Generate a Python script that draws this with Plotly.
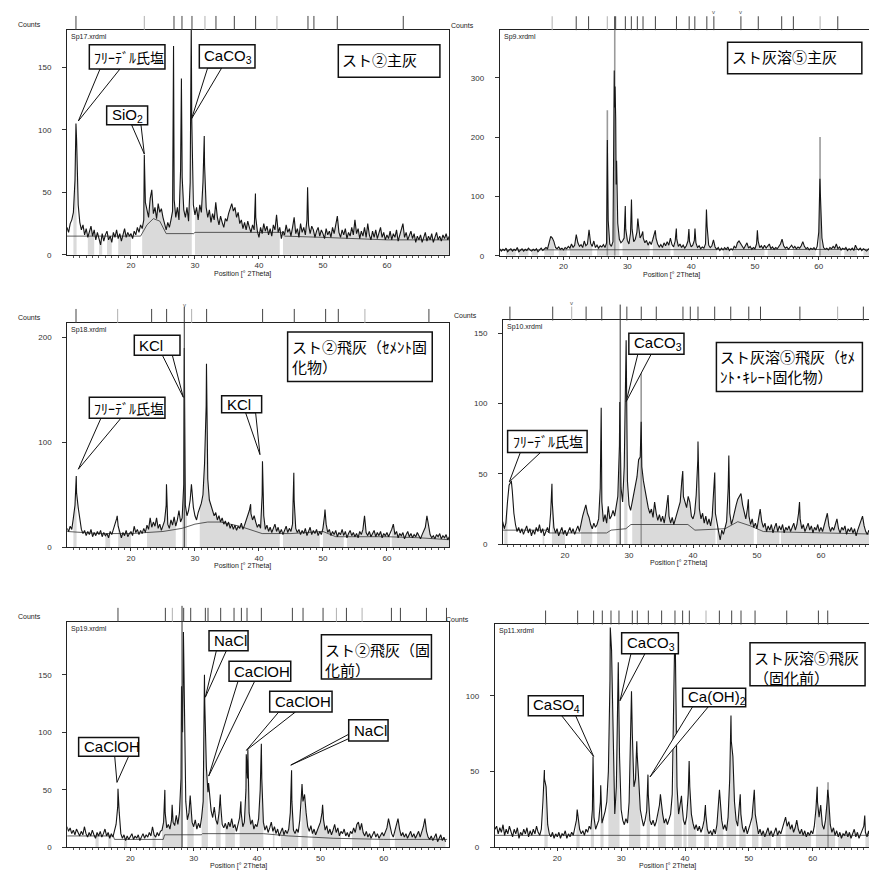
import plotly.graph_objects as go

W, H = 877, 873
GRID_START, GRID_STEP = 10.0, 0.25   # profile grid: 10.00, 10.25, ... 69.75 (deg 2Theta)

# ============ Panel 1 : Sp17 (スト②主灰) ============
p1_name = "Sp17.xrdml"
p1_title = ["スト②主灰"]
p1_yticks = [0, 50, 100, 150]
p1_noise = [
    22, 18, 25, 28, 34, 60, 92, 40, 26, 20, 24, 16, 21, 14, 19, 23, 15, 20, 12, 18,
    13, 8, 17, 11, 16, 19, 12, 15, 10, 18, 14, 20, 13, 17, 11, 16, 21, 14, 18, 15,
    17, 13, 19, 16, 22, 18, 24, 21, 28, 42, 36, 30, 45, 52, 33, 38, 29, 41, 34, 37,
    30, 24, 20, 26, 22, 28, 35, 44, 30, 38, 28, 68, 62, 36, 30, 38, 27, 58, 108, 40,
    32, 38, 28, 40, 34, 58, 72, 38, 30, 36, 26, 33, 28, 42, 30, 24, 31, 26, 22, 29,
    27, 33, 38, 41, 35, 38, 30, 34, 25, 28, 21, 26, 20, 27, 22, 18, 24, 20, 30, 19,
    14, 22, 17, 25, 19, 23, 16, 21, 15, 24, 20, 32, 18, 22, 13, 19, 16, 24, 18, 21,
    15, 22, 30, 17, 21, 14, 25, 18, 22, 16, 28, 24, 17, 23, 20, 14, 19, 22, 15, 20,
    17, 13, 21, 16, 19, 14, 22, 17, 24, 31, 18, 14, 20, 16, 21, 13, 18, 15, 22, 16,
    28, 17, 21, 13, 19, 15, 22, 14, 25, 16, 12, 19, 14, 20, 13, 17, 22, 14, 18, 12,
    16, 13, 19, 12, 17, 14, 20, 11, 16, 19, 25, 14, 18, 12, 16, 19, 13, 17, 10, 15,
    12, 16, 10, 14, 18, 11, 15, 12, 17, 10, 14, 18, 12, 15, 11, 16, 13, 17, 12, 15,
]
p1_peak_x = [11.4, 22.08, 26.65, 27.88, 29.42, 31.45, 39.45, 47.6]
p1_peak_y = [105, 80, 167, 141, 185, 95, 49, 54]
p1_bg_x = [10, 21.5, 22.5, 23.5, 24.5, 25.5, 29.8, 30.0, 43.5, 44.0, 50, 55, 60, 65, 70]
p1_bg_y = [15, 15, 24, 29, 27, 17, 17, 18, 18, 15, 14, 13, 12, 12, 12]
p1_gray = [(10.8, 11.6), (13.2, 14.3), (14.8, 15.5), (16.1, 17), (17.9, 20.1),
           (21.7, 29.7), (30, 43.4), (43.6, 70)]
p1_stick_x, p1_stick_y = [], []
p1_ref = [11.4, 26.72, 27.97, 29.53, 33.28, 36.15, 39.48, 47.66, 48.59, 52.24, 62.55]
p1_ref_light = [22.08, 31.56, 42.81]
p1_long = []
p1_vmarks = []

# ============ Panel 2 : Sp9 (スト灰溶⑤主灰) ============
p2_name = "Sp9.xrdml"
p2_title = ["スト灰溶⑤主灰"]
p2_yticks = [0, 100, 200, 300]
p2_noise = [
    12, 8, 11, 9, 13, 7, 10, 12, 8, 11, 9, 14, 7, 10, 12, 8, 11, 9, 13, 10,
    8, 11, 9, 12, 7, 10, 13, 9, 11, 14, 12, 22, 33, 30, 24, 14, 12, 15, 11, 13,
    10, 14, 12, 16, 13, 20, 14, 18, 36, 22, 16, 19, 14, 25, 17, 20, 44, 21, 16, 25,
    14, 18, 13, 17, 15, 19, 14, 22, 60, 20, 16, 24, 250, 120, 55, 28, 22, 25, 30, 45,
    26, 20, 38, 45, 24, 28, 40, 52, 30, 35, 30, 22, 26, 18, 24, 19, 28, 38, 30, 20,
    15, 19, 14, 22, 17, 24, 18, 30, 19, 15, 25, 28, 16, 20, 14, 18, 13, 17, 25, 24,
    15, 18, 26, 22, 14, 17, 12, 15, 13, 20, 50, 18, 14, 17, 27, 15, 11, 14, 9, 13,
    10, 14, 11, 15, 9, 12, 10, 16, 13, 22, 25, 20, 15, 12, 17, 22, 13, 16, 11, 14,
    12, 20, 25, 14, 17, 12, 18, 13, 16, 20, 12, 15, 11, 14, 12, 17, 20, 28, 17, 13,
    15, 11, 14, 18, 13, 16, 12, 15, 13, 17, 24, 16, 12, 14, 10, 13, 11, 14, 10, 16,
    40, 105, 30, 14, 11, 13, 10, 14, 12, 16, 13, 20, 12, 15, 10, 13, 11, 14, 9, 12,
    10, 13, 9, 18, 12, 10, 13, 9, 12, 10, 8, 11, 13, 17, 20, 14, 10, 12, 9, 11,
]
p2_peak_x = [26.87, 27.95, 28.08, 28.18, 28.32, 29.68, 30.65, 31.65, 32.42, 34.38,
             37.68, 39.65, 40.6, 42.4, 50.38, 60.18]
p2_peak_y = [195, 312, 285, 230, 160, 84, 95, 63, 41, 43, 46, 45, 46, 78, 43, 130]
p2_bg_x = [10, 17.5, 18, 70]
p2_bg_y = [10, 10, 11, 11]
p2_gray = [(11, 12.5), (13, 14.5), (15, 16), (17, 18.6), (19.2, 20.5), (21, 24.6),
           (25.2, 28.8), (29.2, 33.5), (34, 36.8), (37.2, 44.2), (44.8, 46), (46.5, 51.5),
           (52, 55), (56, 59.5), (59.8, 63.5), (64, 66), (67, 70)]
p2_stick_x = [26.87, 28.03, 60.2]
p2_stick_y = [245, 400, 200]
p2_ref = [21.99, 23.93, 28.01, 28.17, 29.69, 30.63, 31.57, 32.46, 34.40, 37.70, 39.69,
          40.58, 42.46, 43.56, 47.80, 50.52, 54.19, 56.02, 62.98, 68.43]
p2_ref_light = [18.22, 26.86, 60.21]
p2_long = []
p2_vmarks = [43.56, 47.80]

# ============ Panel 3 : Sp18 (スト②飛灰 セメント固化物) ============
p3_name = "Sp18.xrdml"
p3_title = ["スト②飛灰（ｾﾒﾝﾄ固", "化物）"]
p3_yticks = [0, 100, 200]
p3_noise = [
    18, 15, 20, 17, 28, 40, 52, 38, 25, 17, 13, 16, 11, 15, 12, 17, 10, 14, 11, 15,
    12, 16, 10, 14, 11, 13, 9, 15, 12, 18, 22, 27, 20, 13, 9, 14, 11, 16, 10, 13,
    15, 11, 20, 14, 17, 12, 16, 13, 18, 14, 21, 17, 28, 19, 24, 20, 28, 18, 22, 16,
    21, 25, 40, 22, 18, 26, 21, 29, 20, 26, 35, 24, 28, 60, 40, 30, 35, 45, 55, 38,
    30, 26, 33, 38, 42, 50, 80, 135, 65, 45, 40, 35, 30, 33, 26, 30, 24, 28, 22, 25,
    20, 24, 18, 22, 17, 21, 16, 20, 18, 23, 17, 21, 25, 30, 35, 32, 26, 30, 24, 19,
    22, 18, 50, 30, 17, 21, 15, 19, 14, 18, 22, 15, 19, 13, 17, 12, 16, 20, 14, 18,
    15, 22, 45, 18, 14, 17, 12, 16, 13, 18, 11, 15, 19, 12, 16, 13, 17, 11, 15, 12,
    18, 30, 22, 14, 17, 11, 15, 12, 16, 10, 14, 12, 17, 11, 15, 9, 13, 16, 11, 14,
    10, 13, 9, 15, 12, 17, 30, 14, 11, 15, 10, 13, 16, 10, 14, 11, 15, 9, 13, 11,
    14, 10, 13, 17, 22, 12, 15, 9, 13, 11, 14, 8, 12, 15, 10, 13, 9, 12, 10, 14,
    11, 8, 12, 15, 19, 30, 20, 12, 9, 11, 8, 12, 10, 13, 8, 11, 9, 12, 7, 10,
]
p3_peak_x = [11.45, 17.85, 25.55, 28.33, 29.45, 31.8, 38.7, 40.55, 45.45, 50.32]
p3_peak_y = [68, 30, 60, 190, 60, 175, 41, 82, 71, 36]
p3_bg_x = [10, 15, 20, 25, 28, 30, 32, 34, 37, 40.5, 45, 50, 52, 60, 65, 70]
p3_bg_y = [15, 13, 13, 15, 18, 22, 24, 24, 20, 13, 13, 15, 10, 10, 9, 7]
p3_gray = [(11, 11.7), (16, 16.8), (17.9, 20), (22.3, 27.1), (28, 28.8), (30.6, 43.4),
           (43.6, 49.7), (49.9, 53.4), (53.7, 60.5), (60.7, 70)]
p3_stick_x, p3_stick_y = [], []
p3_ref = [11.41, 23.23, 25.57, 31.82, 40.57, 45.52, 50.42, 52.40, 66.56]
p3_ref_light = [17.92, 29.48, 56.56]
p3_long = [28.33]
p3_vmarks = [28.33]

# ============ Panel 4 : Sp10 (スト灰溶⑤飛灰 セメント・キレート固化物) ============
p4_name = "Sp10.xrdml"
p4_title = ["スト灰溶⑤飛灰（ｾﾒ", "ﾝﾄ･ｷﾚｰﾄ固化物）"]
p4_yticks = [0, 50, 100, 150]
p4_noise = [
    12, 16, 11, 15, 30, 42, 44, 38, 22, 14, 9, 12, 8, 11, 7, 10, 13, 8, 11, 6,
    10, 7, 12, 9, 14, 8, 11, 6, 9, 12, 8, 22, 30, 12, 8, 11, 6, 9, 12, 7,
    10, 6, 9, 12, 8, 11, 7, 10, 13, 9, 16, 20, 24, 28, 22, 19, 14, 11, 15, 12,
    14, 18, 40, 30, 16, 21, 15, 27, 18, 20, 24, 20, 28, 34, 70, 40, 30, 55, 120, 45,
    28, 24, 30, 36, 42, 48, 60, 62, 55, 45, 38, 30, 26, 22, 25, 19, 30, 22, 17, 21,
    16, 20, 15, 22, 30, 20, 15, 19, 14, 18, 22, 26, 30, 45, 34, 30, 26, 34, 30, 20,
    18, 22, 35, 60, 25, 18, 22, 15, 20, 14, 18, 13, 20, 35, 22, 14, 9, 3, 10, 7,
    12, 16, 40, 22, 14, 18, 24, 28, 32, 34, 36, 28, 22, 18, 25, 20, 14, 18, 12, 15,
    11, 18, 25, 16, 12, 15, 9, 13, 10, 14, 8, 12, 15, 9, 13, 10, 14, 8, 12, 10,
    13, 9, 12, 15, 10, 14, 22, 18, 11, 14, 9, 12, 15, 10, 13, 8, 12, 10, 14, 9,
    12, 9, 14, 17, 22, 13, 9, 12, 10, 14, 18, 11, 8, 12, 10, 13, 7, 11, 9, 12,
    8, 11, 6, 10, 13, 17, 20, 13, 9, 7, 10, 6, 9, 4, 8, 5, 9, 6, 8, 7,
]
p4_peak_x = [11.6, 17.95, 25.65, 28.55, 29.55, 31.9, 36.1, 38.4, 40.78, 43.4, 45.6, 48.65, 56.65]
p4_peak_y = [45, 43, 97, 101, 145, 87, 35, 52, 73, 51, 63, 32, 30]
p4_bg_x = [10, 17, 17.5, 26.5, 27.2, 29.5, 30.3, 39.2, 40.3, 45, 47, 49, 51, 60, 70]
p4_bg_y = [10, 10, 8, 8, 10, 11, 14, 14, 10, 11, 16, 13, 9, 8, 7]
p4_gray = [(10.5, 11.1), (16.3, 16.9), (17.9, 20.1), (22.4, 24.4), (25, 27.2), (28, 28.8),
           (29.1, 29.9), (30.5, 43.5), (43.7, 49.7), (50, 53.5), (53.7, 70)]
p4_stick_x = [31.9]
p4_stick_y = [122]
p4_ref = [11.38, 18.07, 23.29, 25.74, 29.66, 31.91, 34.26, 38.43, 39.58, 40.78, 43.39,
          45.90, 48.72, 50.55, 56.71, 66.63]
p4_ref_light = [21.04, 62.61]
p4_long = [28.62]
p4_vmarks = [21.04]

# ============ Panel 5 : Sp19 (スト②飛灰 固化前) ============
p5_name = "Sp19.xrdml"
p5_title = ["スト②飛灰（固", "化前）"]
p5_yticks = [0, 50, 100, 150]
p5_noise = [
    18, 14, 17, 12, 15, 11, 16, 13, 10, 14, 11, 18, 12, 9, 13, 10, 15, 11, 8, 13,
    10, 14, 9, 12, 16, 10, 13, 8, 12, 9, 14, 20, 35, 30, 12, 8, 11, 6, 10, 7,
    9, 12, 7, 10, 8, 11, 6, 9, 12, 8, 11, 9, 13, 10, 18, 11, 9, 13, 10, 14,
    15, 22, 30, 17, 20, 16, 24, 22, 19, 28, 20, 30, 60, 100, 150, 40, 24, 30, 40, 22,
    18, 24, 16, 21, 17, 26, 40, 125, 70, 48, 45, 32, 26, 35, 24, 20, 30, 38, 20, 17,
    21, 16, 22, 18, 25, 17, 20, 14, 19, 26, 30, 18, 22, 50, 60, 30, 20, 24, 16, 20,
    18, 25, 50, 60, 22, 15, 19, 13, 17, 22, 14, 18, 12, 16, 10, 14, 17, 11, 15, 12,
    16, 30, 40, 15, 12, 16, 13, 24, 45, 40, 46, 30, 18, 14, 19, 12, 16, 11, 15, 18,
    22, 30, 24, 15, 19, 12, 16, 11, 15, 20, 13, 17, 10, 14, 12, 16, 10, 13, 9, 14,
    12, 17, 13, 20, 22, 15, 21, 13, 10, 14, 9, 12, 8, 11, 14, 9, 12, 8, 11, 13,
    10, 13, 17, 25, 18, 12, 9, 14, 18, 25, 16, 10, 13, 9, 12, 8, 11, 14, 9, 12,
    8, 11, 14, 9, 13, 18, 25, 14, 9, 7, 10, 6, 9, 12, 5, 8, 11, 6, 9, 5,
]
p5_peak_x = [18.05, 25.45, 26.6, 28.08, 28.38, 29.45, 31.7, 32.35, 34.2, 37.45,
             38.3, 38.55, 40.68, 45.45, 47.1, 50.35]
p5_peak_y = [51, 50, 37, 140, 187, 45, 150, 56, 46, 40, 81, 85, 90, 67, 55, 37]
p5_bg_x = [10, 17.3, 17.5, 25.2, 25.4, 31.2, 31.4, 41, 45, 52, 60, 70]
p5_bg_y = [10, 10, 7, 7, 11, 11, 12, 12, 10, 8, 7, 7]
p5_gray = [(14.5, 15.2), (16.5, 17), (18.8, 19.6), (20.3, 20.7), (23.5, 24.2), (24.9, 28.3),
           (28.8, 30.2), (31.1, 32.3), (33.4, 34.4), (35, 36.6), (37.2, 41.2), (42.3, 42.8),
           (43.6, 46.5), (46.8, 48.2), (48.6, 53.4), (55, 58.1), (59.2, 61.2), (61.7, 70)]
p5_stick_x, p5_stick_y = [], []
p5_ref = [18.05, 25.53, 28.42, 29.53, 31.84, 32.26, 34.26, 36.37, 37.53, 38.42, 40.68,
          45.58, 47.26, 50.42, 54.11, 61.21, 62.63, 66.74, 69.9]
p5_ref_light = [26.63, 52.53, 56.58]
p5_long = [28.16]
p5_vmarks = []

# ============ Panel 6 : Sp11 (スト灰溶⑤飛灰 固化前) ============
p6_name = "Sp11.xrdml"
p6_title = ["スト灰溶⑤飛灰", "（固化前）"]
p6_yticks = [0, 50, 100]
p6_noise = [
    16, 12, 14, 9, 13, 10, 15, 8, 12, 9, 14, 11, 7, 12, 9, 13, 6, 10, 8, 12,
    9, 13, 7, 11, 8, 12, 9, 14, 10, 8, 12, 30, 45, 40, 15, 9, 7, 10, 6, 9,
    7, 10, 6, 9, 8, 11, 6, 9, 7, 10, 8, 13, 18, 20, 12, 9, 11, 8, 12, 10,
    14, 12, 25, 20, 12, 15, 18, 30, 16, 20, 24, 30, 50, 110, 130, 60, 22, 40, 100, 60,
    25, 18, 15, 19, 16, 30, 70, 75, 40, 45, 62, 45, 25, 19, 14, 18, 24, 35, 18, 15,
    18, 14, 17, 22, 28, 30, 22, 16, 19, 15, 18, 22, 35, 120, 128, 40, 22, 28, 30, 18,
    15, 20, 35, 40, 22, 16, 12, 15, 11, 14, 10, 13, 18, 22, 12, 9, 11, 8, 12, 9,
    15, 30, 32, 18, 12, 15, 11, 20, 45, 70, 60, 30, 18, 14, 25, 22, 13, 10, 14, 9,
    12, 16, 20, 30, 22, 14, 9, 12, 8, 11, 7, 10, 13, 8, 11, 7, 10, 13, 8, 11,
    9, 13, 16, 20, 14, 17, 12, 15, 10, 13, 18, 12, 9, 12, 8, 11, 7, 10, 8, 11,
    9, 14, 25, 30, 20, 28, 15, 12, 18, 30, 32, 15, 10, 13, 8, 11, 7, 10, 6, 9,
    8, 11, 7, 10, 6, 9, 12, 7, 10, 6, 9, 12, 14, 10, 7, 11, 6, 9, 5, 8,
]
p6_peak_x = [17.98, 23.12, 25.6, 26.8, 28.3, 29.55, 31.62, 32.45, 34.2, 36.15, 38.35,
             39.45, 40.65, 43.2, 45.4, 47.2, 48.65, 50.85, 60.7, 62.35, 68.15]
p6_peak_y = [51, 25, 60, 41, 145, 122, 103, 70, 48, 35, 128, 34, 57, 28, 38, 87, 35, 38, 40, 38, 21]
p6_bg_x = [10, 70]
p6_bg_y = [8, 8]
p6_gray = [(17.9, 18.5), (22.8, 23.6), (25.1, 25.9), (26.7, 27.4), (28, 29.9), (31.1, 33.2),
           (33.9, 34.6), (35.6, 37.1), (38.2, 39.5), (39.7, 40.3), (40.5, 41.8), (42.9, 43.9),
           (45, 46), (46.5, 48.1), (48.4, 49.7), (50.4, 51.5), (52, 53.6), (54.1, 55.1),
           (55.7, 59.8), (60.4, 63.5), (64, 66.1), (68.2, 69.8)]
p6_stick_x = [62.4]
p6_stick_y = [43]
p6_ref = [18.17, 23.19, 25.69, 27.05, 28.41, 29.66, 31.75, 32.53, 34.26, 36.34, 38.43,
          39.63, 40.68, 45.38, 47.31, 48.77, 50.97, 55.93, 60.89, 62.35]
p6_ref_light = [43.29]
p6_long = []
p6_vmarks = []

# ---------------- layout (pixel frames, ranges, callouts) ----------------
PANELS = [
    dict(noise=p1_noise, pkx=p1_peak_x, pky=p1_peak_y, bgx=p1_bg_x, bgy=p1_bg_y, gray=p1_gray,
         sx=p1_stick_x, sy=p1_stick_y, ref=p1_ref, light=p1_ref_light, long=p1_long,
         vm=p1_vmarks, name=p1_name, title=p1_title, yt=p1_yticks,
         px=(59, 441, 22, 248.3), xr=[10.0, 69.7], yr=[0, 180], xlab=37.5,
         tbox=(52.4, 68.28, 142, 168),
         callouts=[("ﾌﾘｰﾃﾞﾙ氏塩", "cjk", (13.49, 25.31, 148.7, 168.0), [(15.16, 148.7), (18.28, 148.7)], (11.77, 107.1)),
                   ("SiO<sub>2</sub>", "lat", (16.2, 22.6, 104, 119), [(20.1, 104), (21.56, 104)], (22.08, 80.7)),
                   ("CaCO<sub>3</sub>", "lat", (30.68, 39.38, 149.5, 168), [(31.98, 149.5), (34.17, 149.5)], (29.48, 109))]),
    dict(noise=p2_noise, pkx=p2_peak_x, pky=p2_peak_y, bgx=p2_bg_x, bgy=p2_bg_y, gray=p2_gray,
         sx=p2_stick_x, sy=p2_stick_y, ref=p2_ref, light=p2_ref_light, long=p2_long,
         vm=p2_vmarks, name=p2_name, title=p2_title, yt=p2_yticks,
         px=(491.7, 873.3, 22.3, 249.3), xr=[10.0, 69.8], yr=[0, 380], xlab=37.0,
         tbox=(45.71, 66.75, 306.5, 359.6), callouts=[]),
    dict(noise=p3_noise, pkx=p3_peak_x, pky=p3_peak_y, bgx=p3_bg_x, bgy=p3_bg_y, gray=p3_gray,
         sx=p3_stick_x, sy=p3_stick_y, ref=p3_ref, light=p3_ref_light, long=p3_long,
         vm=p3_vmarks, name=p3_name, title=p3_title, yt=p3_yticks,
         px=(59.3, 441, 316.7, 542.3), xr=[10.05, 69.7], yr=[0, 214], xlab=37.5,
         tbox=(44.48, 67.08, 158.2, 205.4),
         callouts=[("KCl", "lat", (20.52, 27.66, 183.2, 202.2), [(24.9, 183.2), (26.46, 183.2)], (28.18, 143)),
                   ("ﾌﾘｰﾃﾞﾙ氏塩", "cjk", (13.49, 25.31, 123.1, 143), [(15.31, 123.1), (18.44, 123.1)], (11.77, 74.4)),
                   ("KCl", "lat", (34.17, 40.42, 128.2, 144.6), [(37.92, 128.2), (39.48, 128.2)], (40.16, 88.3))]),
    dict(noise=p4_noise, pkx=p4_peak_x, pky=p4_peak_y, bgx=p4_bg_x, bgy=p4_bg_y, gray=p4_gray,
         sx=p4_stick_x, sy=p4_stick_y, ref=p4_ref, light=p4_ref_light, long=p4_long,
         vm=p4_vmarks, name=p4_name, title=p4_title, yt=p4_yticks,
         px=(495, 875, 314.3, 539.3), xr=[10.3, 69.7], yr=[0, 159], xlab=37.7,
         tbox=(43.66, 66.48, 108.5, 143.4),
         callouts=[("CaCO<sub>3</sub>", "lat", (29.97, 38.59, 135.1, 150), [(31.38, 135.1), (33.47, 135.1)], (29.56, 101.4)),
                   ("ﾌﾘｰﾃﾞﾙ氏塩", "cjk", (11.02, 23.45, 65.1, 80.9), [(13.0, 65.1), (16.14, 65.1)], (11.28, 44.3))]),
    dict(noise=p5_noise, pkx=p5_peak_x, pky=p5_peak_y, bgx=p5_bg_x, bgy=p5_bg_y, gray=p5_gray,
         sx=p5_stick_x, sy=p5_stick_y, ref=p5_ref, light=p5_ref_light, long=p5_long,
         vm=p5_vmarks, name=p5_name, title=p5_title, yt=p5_yticks,
         px=(59.3, 441, 617.3, 844.3), xr=[10.05, 70.3], yr=[0, 196], xlab=37.1,
         tbox=(50.16, 67.53, 146.4, 184.7),
         callouts=[("NaCl", "lat", (32.42, 38.58, 170.9, 188.2), [(33.58, 170.9), (35.16, 170.9)], (31.84, 130.5)),
                   ("CaClOH", "lat", (35.58, 45.32, 144.4, 161.7), [(37.0, 144.4), (39.63, 144.4)], (32.37, 62.0)),
                   ("CaClOH", "lat", (42.0, 51.84, 117.6, 135.7), [(43.42, 117.6), (46.05, 117.6)], (38.32, 84.4)),
                   ("NaCl", "lat", (54.47, 60.68, 92.5, 111), [(54.47, 98.3), (54.47, 94.5)], (45.32, 71.5)),
                   ("CaClOH", "lat", (11.84, 21.32, 79.3, 95.4), [(17.53, 79.3), (19.74, 79.3)], (17.89, 56.5))]),
    dict(noise=p6_noise, pkx=p6_peak_x, pky=p6_peak_y, bgx=p6_bg_x, bgy=p6_bg_y, gray=p6_gray,
         sx=p6_stick_x, sy=p6_stick_y, ref=p6_ref, light=p6_ref_light, long=p6_long,
         vm=p6_vmarks, name=p6_name, title=p6_title, yt=p6_yticks,
         px=(486.7, 867.3, 620, 844.3), xr=[10.2, 69.8], yr=[0, 147], xlab=37.2,
         tbox=(50.18, 68.2, 106.6, 134.9),
         callouts=[("CaCO<sub>3</sub>", "lat", (30.08, 38.96, 127.7, 141.5), [(31.54, 127.7), (33.73, 127.7)], (29.82, 96.7)),
                   ("CaSO<sub>4</sub>", "lat", (15.46, 24.07, 86.9, 100), [(20.68, 86.9), (22.87, 86.9)], (25.69, 60)),
                   ("Ca(OH)<sub>2</sub>", "lat", (39.63, 49.5, 92.8, 105), [(41.2, 92.8), (43.66, 92.8)], (34.52, 46.5))]),
]

CJK = "Noto Sans CJK JP"
LAT = "Liberation Sans"


def merge_profile(noise, px, py):
    gx = [round(GRID_START + GRID_STEP * i, 2) for i in range(len(noise))]
    pts = sorted(list(zip(gx, noise)) + list(zip(px, py)))
    return [p[0] for p in pts], [p[1] for p in pts]


def gray_polygons(xs, ys, ranges):
    ox, oy = [], []
    for a, b in ranges:
        seg = [(x, y) for x, y in zip(xs, ys) if a <= x <= b]
        if len(seg) < 2:
            continue
        ox += [seg[0][0]] + [s[0] for s in seg] + [seg[-1][0], None]
        oy += [0] + [s[1] for s in seg] + [0, None]
    return ox, oy


fig = go.Figure()
shapes, annos, layout_axes = [], [], {}

for i, P in enumerate(PANELS, start=1):
    xa = "x" if i == 1 else f"x{i}"
    ya = "y" if i == 1 else f"y{i}"
    l, r, t, b = P["px"]
    ytop, ybot = 1 - t / H, 1 - b / H

    xs, ys = merge_profile(P["noise"], P["pkx"], P["pky"])
    gx, gy = gray_polygons(xs, ys, P["gray"])
    fig.add_trace(go.Scatter(x=gx, y=gy, mode="lines", fill="toself", fillcolor="#dadada",
                             line=dict(width=0, color="#dadada"), xaxis=xa, yaxis=ya,
                             hoverinfo="skip", showlegend=False))
    if P["sx"]:
        stx, sty = [], []
        for sx, sy in zip(P["sx"], P["sy"]):
            stx += [sx, sx, None]
            sty += [0, sy, None]
        fig.add_trace(go.Scatter(x=stx, y=sty, mode="lines", line=dict(color="#9a9a9a", width=1.6),
                                 xaxis=xa, yaxis=ya, hoverinfo="skip", showlegend=False))
    fig.add_trace(go.Scatter(x=P["bgx"], y=P["bgy"], mode="lines", line=dict(color="#333", width=0.8),
                             xaxis=xa, yaxis=ya, hoverinfo="skip", showlegend=False))
    fig.add_trace(go.Scatter(x=xs, y=ys, mode="lines", line=dict(color="#151515", width=1.1),
                             xaxis=xa, yaxis=ya, hoverinfo="skip", showlegend=False))

    layout_axes["xaxis" if i == 1 else f"xaxis{i}"] = dict(
        domain=[l / W, r / W], range=P["xr"], anchor=ya, showline=True, mirror=True,
        linecolor="#222", linewidth=1, ticks="outside", ticklen=3, tickcolor="#333",
        tickvals=[20, 30, 40, 50, 60], tickfont=dict(size=8, color="#333", family=LAT),
        minor=dict(tickvals=list(range(11, 70)), ticks="outside", ticklen=2, tickcolor="#555"),
        showgrid=False, zeroline=False, fixedrange=True)
    layout_axes["yaxis" if i == 1 else f"yaxis{i}"] = dict(
        domain=[ybot, ytop], range=P["yr"], anchor=xa, showline=True, mirror=True,
        linecolor="#222", linewidth=1, ticks="outside", ticklen=4, tickcolor="#333",
        tickvals=P["yt"], tickfont=dict(size=8, color="#333", family=LAT),
        ticklabelstandoff=9, showgrid=False, zeroline=False, fixedrange=True)

    # reference marker ticks above frame
    for tk, col in [(v, "#444") for v in P["ref"]] + [(v, "#b0b0b0") for v in P["light"]]:
        shapes.append(dict(type="line", xref=xa, yref="paper", x0=tk, x1=tk,
                           y0=ytop, y1=ytop + 14 / H, line=dict(color=col, width=1)))
    for tk in P["long"]:
        shapes.append(dict(type="line", xref=xa, yref="paper", x0=tk, x1=tk,
                           y0=ybot, y1=ytop + 16 / H, line=dict(color="#333", width=1)))
    for tk in P["vm"]:
        annos.append(dict(text="v", xref=xa, x=tk, yref="paper", y=ytop + 18 / H,
                          showarrow=False, font=dict(size=6, color="#555", family=LAT),
                          xanchor="center", yanchor="middle"))

    # callouts
    for text, kind, (bx0, bx1, by0, by1), base, tip in P["callouts"]:
        path = f"M{base[0][0]},{base[0][1]} L{tip[0]},{tip[1]} L{base[1][0]},{base[1][1]} Z"
        shapes.append(dict(type="path", xref=xa, yref=ya, path=path, fillcolor="white",
                           line=dict(color="#111", width=1)))
        shapes.append(dict(type="rect", xref=xa, yref=ya, x0=bx0, x1=bx1, y0=by0, y1=by1,
                           fillcolor="white", line=dict(color="#111", width=1.5)))
        annos.append(dict(text=text, xref=xa, yref=ya, x=bx0, y=(by0 + by1) / 2, xshift=3,
                          xanchor="left", yanchor="middle", showarrow=False,
                          font=dict(size=14 if kind == "cjk" else 15,
                                    family=CJK if kind == "cjk" else LAT, color="#000")))
    # title box
    tx0, tx1, ty0, ty1 = P["tbox"]
    shapes.append(dict(type="rect", xref=xa, yref=ya, x0=tx0, x1=tx1, y0=ty0, y1=ty1,
                       fillcolor="white", line=dict(color="#111", width=1.5)))
    annos.append(dict(text="<br>".join(P["title"]), xref=xa, yref=ya, x=tx0, y=ty1, xshift=2,
                      yshift=-2, xanchor="left", yanchor="top", align="left",
                      showarrow=False, font=dict(size=15, family=CJK, color="#000")))

    # small labels
    annos.append(dict(text="Counts", xref=f"{xa} domain", x=0, xshift=-24, yref=f"{ya} domain",
                      y=1, yshift=5, xanchor="right", yanchor="middle", showarrow=False,
                      font=dict(size=7, color="#222", family=LAT)))
    annos.append(dict(text=P["name"], xref=f"{xa} domain", x=0, xshift=2, yref=f"{ya} domain",
                      y=1, yshift=-1, xanchor="left", yanchor="top", showarrow=False,
                      font=dict(size=7, color="#222", family=LAT)))
    annos.append(dict(text="Position [° 2Theta]", xref=xa, x=P["xlab"], yref=f"{ya} domain",
                      y=0, yshift=-19, xanchor="center", yanchor="middle", showarrow=False,
                      font=dict(size=7, color="#222", family=LAT)))

fig.update_layout(width=W, height=H, margin=dict(l=0, r=0, t=0, b=0),
                  paper_bgcolor="white", plot_bgcolor="white",
                  font=dict(family=LAT), showlegend=False,
                  shapes=shapes, annotations=annos, **layout_axes)

fig.write_html("out.html")
